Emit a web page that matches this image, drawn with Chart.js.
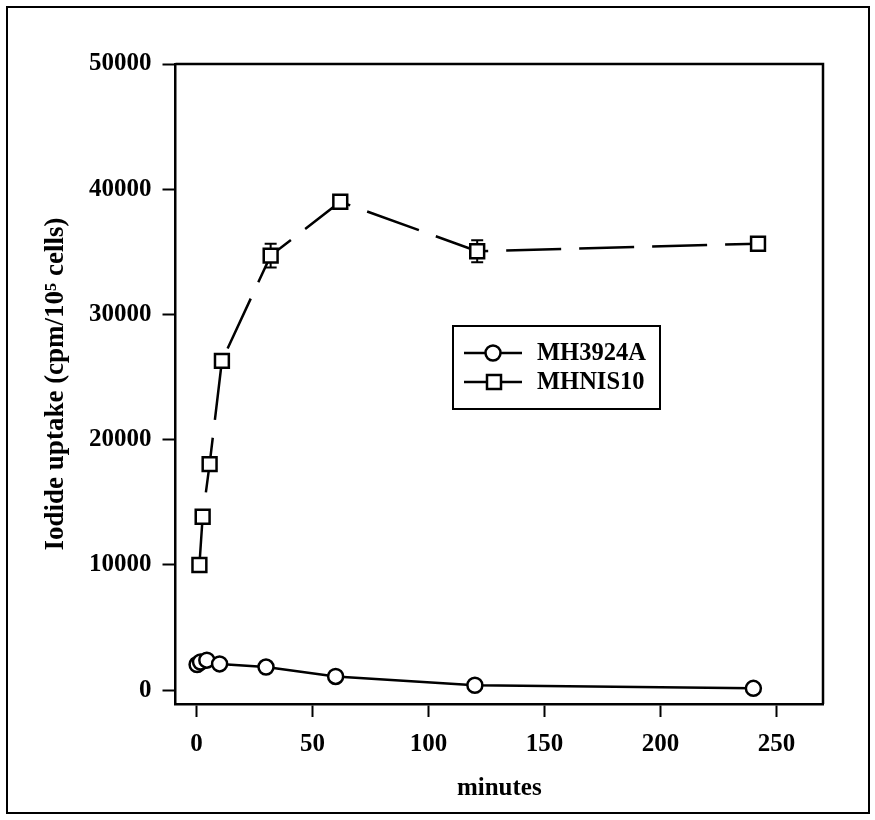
<!DOCTYPE html>
<html>
<head>
<meta charset="utf-8">
<script src="https://cdn.jsdelivr.net/npm/chart.js@4.4.1/dist/chart.umd.min.js"></script>
<style>
  html, body { margin: 0; padding: 0; background: #fff; }
  #wrap { position: relative; width: 875px; height: 820px; }
  #frame { position: absolute; left: 6px; top: 6px; width: 860px; height: 804px; border: 2px solid #000; pointer-events: none; }
  canvas { position: absolute; left: 0; top: 0; }
</style>
</head>
<body>
<div id="wrap">
  <canvas id="c" width="875" height="820"></canvas>
  <div id="frame"></div>
</div>
<script>
// ---- data ----
const seriesNames = ['MH3924A', 'MHNIS10'];
const circleMinutes = [0.3, 1.8, 4.5, 10, 30, 60, 120, 240];
const circleValues  = [2050, 2250, 2400, 2100, 1850, 1100, 400, 150];
const squareMinutes = [1.3, 2.7, 5.7, 11, 32, 62, 121, 242];
const squareValues  = [10000, 13850, 18050, 26300, 34700, 39000, 35050, 35650];
const squareErrors  = [0, 0, 0, 0, 950, 0, 880, 0];
const xTicks = [0, 50, 100, 150, 200, 250];
const yTicks = [0, 10000, 20000, 30000, 40000, 50000];
const xTitle = 'minutes';
const yTitle = 'Iodide uptake (cpm/10\u2075 cells)';

const FONT = 'Liberation Serif, Times New Roman, serif';
const tickFont = { family: FONT, size: 25, weight: 'bold' };

const circleData = circleMinutes.map((m, i) => ({ x: m, y: circleValues[i] }));
const squareData = squareMinutes.map((m, i) => ({ x: m, y: squareValues[i] }));

const errorBars = {
  id: 'errorBars',
  beforeDatasetsDraw(chart) {
    const ctx = chart.ctx, xs = chart.scales.x, ys = chart.scales.y;
    ctx.save();
    ctx.strokeStyle = '#000';
    ctx.lineWidth = 2;
    squareMinutes.forEach((m, i) => {
      const e = squareErrors[i];
      if (!e) return;
      const px = xs.getPixelForValue(m);
      const top = ys.getPixelForValue(squareValues[i] + e);
      const bot = ys.getPixelForValue(squareValues[i] - e);
      ctx.beginPath();
      ctx.moveTo(px, top); ctx.lineTo(px, bot);
      ctx.moveTo(px - 6, top); ctx.lineTo(px + 6, top);
      ctx.moveTo(px - 6, bot); ctx.lineTo(px + 6, bot);
      ctx.stroke();
    });
    ctx.restore();
  }
};

const boxFrame = {
  id: 'boxFrame',
  afterDraw(chart) {
    const { ctx, chartArea: a } = chart;
    ctx.save();
    ctx.strokeStyle = '#000';
    ctx.lineWidth = 2.5;
    ctx.beginPath();
    ctx.moveTo(a.left, a.top); ctx.lineTo(a.right, a.top); ctx.lineTo(a.right, a.bottom);
    ctx.stroke();
    ctx.restore();
  }
};

const boxLegend = {
  id: 'boxLegend',
  afterDraw(chart) {
    const ctx = chart.ctx;
    ctx.save();
    ctx.strokeStyle = '#000';
    ctx.lineWidth = 2;
    ctx.strokeRect(453, 326, 207, 83);
    const rows = [353, 382];
    chart.data.datasets.forEach((ds, i) => {
      const y = rows[i];
      ctx.lineWidth = 2.5;
      ctx.setLineDash([]);
      ctx.beginPath(); ctx.moveTo(464, y); ctx.lineTo(522, y); ctx.stroke();
      ctx.fillStyle = '#fff';
      ctx.beginPath();
      if (ds.pointStyle === 'circle') {
        ctx.arc(493, y, 7.5, 0, Math.PI * 2);
      } else {
        ctx.rect(494 - 7, y - 7, 14, 14);
      }
      ctx.fill(); ctx.stroke();
      ctx.fillStyle = '#000';
      ctx.font = 'bold 24.5px ' + FONT;
      ctx.textBaseline = 'middle';
      ctx.textAlign = 'left';
      ctx.fillText(ds.label, 537, y + 1);
    });
    ctx.restore();
  }
};

new Chart(document.getElementById('c'), {
  type: 'line',
  data: {
    datasets: [
      {
        label: seriesNames[0], data: circleData,
        borderColor: '#000', borderWidth: 2.5, tension: 0,
        pointStyle: 'circle', pointRadius: 7.5, pointBorderWidth: 2.5,
        pointBackgroundColor: '#fff', pointBorderColor: '#000'
      },
      {
        label: seriesNames[1], data: squareData,
        borderColor: '#000', borderWidth: 2.5, tension: 0, borderDash: [55, 18],
        pointStyle: 'rect', pointRadius: 9.8, pointBorderWidth: 2.5,
        pointBackgroundColor: '#fff', pointBorderColor: '#000'
      }
    ]
  },
  options: {
    responsive: false,
    animation: false,
    layout: { padding: { top: 64, right: 52, left: 0, bottom: 0 } },
    plugins: { legend: { display: false }, tooltip: { enabled: false } },
    scales: {
      x: {
        type: 'linear', min: -9, max: 270,
        afterBuildTicks: s => { s.ticks = xTicks.map(v => ({ value: v })); },
        afterFit: s => { s.height = 116; },
        grid: { drawOnChartArea: false, drawTicks: true, tickLength: 13, tickWidth: 2, tickColor: '#000' },
        border: { display: true, color: '#000', width: 2.5 },
        ticks: { font: tickFont, color: '#000', padding: 13, maxRotation: 0, autoSkip: false, callback: v => String(v) },
        title: { display: true, text: xTitle, font: tickFont, color: '#000', padding: { top: 0, bottom: 16 } }
      },
      y: {
        type: 'linear', min: -1100, max: 50000,
        afterBuildTicks: s => { s.ticks = yTicks.map(v => ({ value: v })); },
        afterFit: s => { s.width = 175.5; },
        grid: { drawOnChartArea: false, drawTicks: true, tickLength: 13, tickWidth: 2, tickColor: '#000' },
        border: { display: true, color: '#000', width: 2.5 },
        ticks: { font: tickFont, color: '#000', padding: 11, autoSkip: false, callback: v => String(v) },
        title: { display: true, text: yTitle, font: { family: FONT, size: 27, weight: 'bold' }, color: '#000', padding: { top: 40, bottom: 0 } }
      }
    }
  },
  plugins: [errorBars, boxFrame, boxLegend]
});
</script>
</body>
</html>
